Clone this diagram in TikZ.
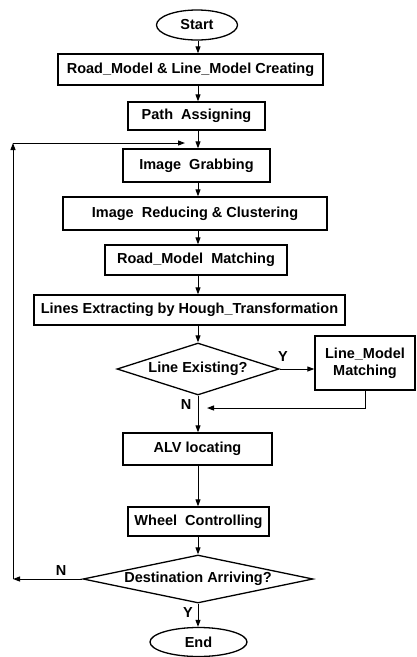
\documentclass[tikz,border=0pt]{standalone}
\usepackage{fontspec}
\setmainfont{Liberation Sans}
\usetikzlibrary{shapes.geometric,arrows.meta}

\begin{document}
\begin{tikzpicture}[
        x=1pt, y=-1pt,
        font=\fontsize{14.5}{17}\selectfont\bfseries,
        box/.style={rectangle, draw, line width=1.3pt, inner sep=0pt},
        decision/.style={diamond, draw, line width=1.3pt, inner sep=0pt},
        terminal/.style={ellipse, draw, line width=1.3pt, inner sep=0pt},
        tag/.style={inner sep=0pt},
        arr/.style={draw, line width=1pt, -{Triangle[length=7pt,width=5pt]}}
    ]
 \useasboundingbox (0,0) rectangle (417,657);
 \coordinate (ax) at (198,0);

 % main column
 \node[terminal, minimum width=81pt, minimum height=30pt] (start) at (197,25) {Start};
 \node[box, minimum width=265pt, minimum height=31pt] (road) at (190.5,69.5) {Road\_Model \& Line\_Model Creating};
 \node[box, minimum width=137pt, minimum height=28pt] (path) at (196.5,116) {Path~ Assigning};
 \node[box, minimum width=147pt, minimum height=33pt] (grab) at (196.5,165.5) {Image~ Grabbing};
 \node[box, minimum width=264pt, minimum height=33pt] (reduce) at (195,213.5) {Image~ Reducing \& Clustering};
 \node[box, minimum width=182pt, minimum height=30pt] (rmatch) at (196,260) {Road\_Model~ Matching};
 \node[box, minimum width=311pt, minimum height=30pt] (lines) at (189.5,310) {Lines Extracting by Hough\_Transformation};
 \node[decision, aspect=3.1, minimum width=162pt, minimum height=52pt] (exist) at (198,369) {Line Existing?};
 \node[box, minimum width=100pt, minimum height=54pt, align=center] (lmatch) at (365,363) {Line\_Model\\Matching};
 \node[box, minimum width=149pt, minimum height=32pt] (alv) at (197.5,449) {ALV locating};
 \node[box, minimum width=141pt, minimum height=29pt] (wheel) at (198.5,521.5) {Wheel~ Controlling};
 \node[decision, aspect=4.8, minimum width=230pt, minimum height=48pt] (dest) at (198,579) {Destination Arriving?};
 \node[terminal, minimum width=97pt, minimum height=29pt] (end) at (198.5,642) {End};

 % answers
 \node[tag] (ylm) at (283,357) {Y};
 \node[tag] (nlm) at (186,405) {N};
 \node[tag] (nds) at (61,571) {N};
 \node[tag] (yds) at (188,613) {Y};

 \coordinate (ret) at (207,408);
 \coordinate (fbl) at (13,579);
 \coordinate (fbt) at (13,143);
 \coordinate (fbin) at (185,143);

 % flow
 \draw[arr] (start.south -| ax) -- (road.north -| ax);
 \draw[arr] (road.south -| ax) -- (path.north -| ax);
 \draw[arr] (path.south -| ax) -- (grab.north -| ax);
 \draw[arr] (grab.south -| ax) -- (reduce.north -| ax);
 \draw[arr] (reduce.south -| ax) -- (rmatch.north -| ax);
 \draw[arr] (rmatch.south -| ax) -- (lines.north -| ax);
 \draw[arr] (lines.south -| ax) -- (exist.north);
 \draw[arr] (exist.east) -- (exist.east -| lmatch.west);
 \draw[arr] (exist.south) -- (alv.north -| ax);
 \draw[arr] (lmatch.south) |- (ret);
 \draw[arr] (alv.south -| ax) -- (wheel.north -| ax);
 \draw[arr] (wheel.south -| ax) -- (dest.north);
 \draw[arr] (dest.south) -- (end.north -| ax);

 % loop back
 \draw[arr] (dest.west) -- (fbl);
 \draw[arr] (fbl) -- (fbt);
 \draw[arr] (fbt) -- (fbin);
\end{tikzpicture}
\end{document}
